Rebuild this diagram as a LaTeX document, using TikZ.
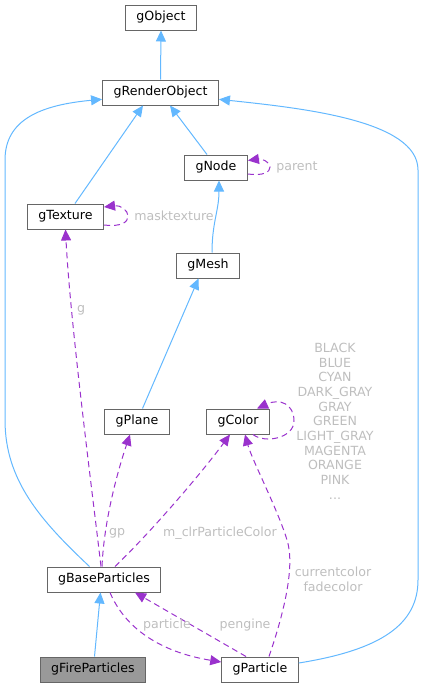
\documentclass[tikz,border=0pt]{standalone}
\usepackage{fontspec}
\setmainfont{DejaVu Sans}
\usetikzlibrary{arrows.meta}
\definecolor{inhblue}{HTML}{63B8FF}
\definecolor{usepurple}{HTML}{9A32CD}
\definecolor{lblgray}{HTML}{BEBEBE}
\definecolor{boxgray}{HTML}{666666}
\definecolor{curfill}{HTML}{999999}
\begin{document}
\begin{tikzpicture}[x=1pt,y=-1pt,every node/.style={font=\fontsize{12.6}{14.67}\selectfont},
 cls/.style={draw=boxgray,line width=1pt,fill=white,minimum height=25pt,inner xsep=11pt,inner ysep=0pt},
 inh/.style={draw=inhblue,line width=1pt,-{Triangle[length=11pt,width=10pt]}},
 usage/.style={draw=usepurple,line width=1pt,dash pattern=on 6pt off 4pt,-{Triangle[length=11pt,width=10pt]}},
 lbl/.style={text=lblgray,inner sep=0pt,align=center}]
\useasboundingbox (0,0) rectangle (424,688);
\node[cls] (obj) at (161,17.5) {gObject};
\node[cls] (rend) at (160.5,92.5) {gRenderObject};
\node[cls] (gnode) at (216,167.5) {gNode};
\node[cls] (tex) at (65.5,216.5) {gTexture};
\node[cls] (mesh) at (208,265.5) {gMesh};
\node[cls] (plane) at (137,421.5) {gPlane};
\node[cls] (color) at (238,421.5) {gColor};
\node[cls] (base) at (104,579.5) {gBaseParticles};
\node[cls,fill=curfill] (fire) at (93,669.5) {gFireParticles};
\node[cls] (part) at (260,669.5) {gParticle};
\draw[inh] (rend.north) -- (obj.south);
\draw[inh] ([xshift=9.5pt]tex.north) -- ([xshift=-17.5pt]rend.south);
\draw[inh] ([xshift=-9pt]gnode.north) -- ([xshift=9.5pt]rend.south);
\draw[inh] ([xshift=4pt]mesh.north) .. controls +(0,-30) and +(0,30) .. ([xshift=3pt]gnode.south);
\draw[inh] ([xshift=5.5pt]plane.north) -- ([xshift=-9.5pt]mesh.south);
\draw[inh] ([xshift=1.5pt]fire.north) -- ([xshift=-3.5pt]base.south);
\draw[inh] ([xshift=-14.5pt]base.north) .. controls (40,520) and (5,480) .. (5,420) -- (5,160) .. controls (5,120) and (40,105) .. ([yshift=-6.8pt]rend.west);
\draw[inh] ([yshift=6.5pt]part.east) .. controls (380,650) and (418,625) .. (418,580) -- (418,170) .. controls (418,120) and (300,108) .. ([yshift=-6.8pt]rend.east);
\draw[usage] ([yshift=-8.5pt]tex.east) .. controls +(18,2) and +(0,6) .. (128,216) .. controls +(0,-6) and +(16,-2) .. ([yshift=9.5pt]tex.east);
\draw[usage] ([yshift=-6.5pt]gnode.east) .. controls +(16,2) and +(0,5) .. (270,167) .. controls +(0,-5) and +(14,-2) .. ([yshift=7pt]gnode.east);
\draw[usage] ([xshift=15pt]color.south) .. controls (265,444) and (294,438) .. (294,421) .. controls (294,404) and (280,398) .. ([xshift=19pt]color.north);
\draw[usage] ([xshift=-3pt]base.north) .. controls (92,490) and (70,320) .. (tex.south);
\draw[usage] ([xshift=-2pt]base.north) .. controls (104,520) and (118,470) .. ([xshift=-7pt]plane.south);
\draw[usage] ([xshift=11pt]base.north) .. controls (150,533) and (200,475) .. ([xshift=-8pt]color.south);
\draw[usage] ([xshift=9pt]part.north) .. controls (285,610) and (295,565) .. (287,540) .. controls (278,510) and (252,460) .. ([xshift=7pt]color.south);
\draw[usage] ([xshift=-14pt]part.north) -- ([xshift=31pt]base.south);
\draw[usage] ([xshift=6pt]base.south) .. controls (125,628) and (160,652) .. ([yshift=7.5pt]part.west);
\node[lbl] (lmask) at (174,216) {masktexture};
\node[lbl] (lparent) at (297,167) {parent};
\node[lbl] (lg) at (81,310) {g};
\node[lbl] (lgp) at (117,533) {gp};
\node[lbl] (lclr) at (220,533) {m\_clrParticleColor};
\node[lbl,anchor=north] (lcolors) at (335,343) {BLACK\\BLUE\\CYAN\\DARK\_GRAY\\GRAY\\GREEN\\LIGHT\_GRAY\\MAGENTA\\ORANGE\\PINK\\...};
\node[lbl,anchor=north] (lcur) at (333,567) {currentcolor\\fadecolor};
\node[lbl] (lpart) at (167,625) {particle};
\node[lbl] (lpeng) at (245,625) {pengine};
\end{tikzpicture}
\end{document}
